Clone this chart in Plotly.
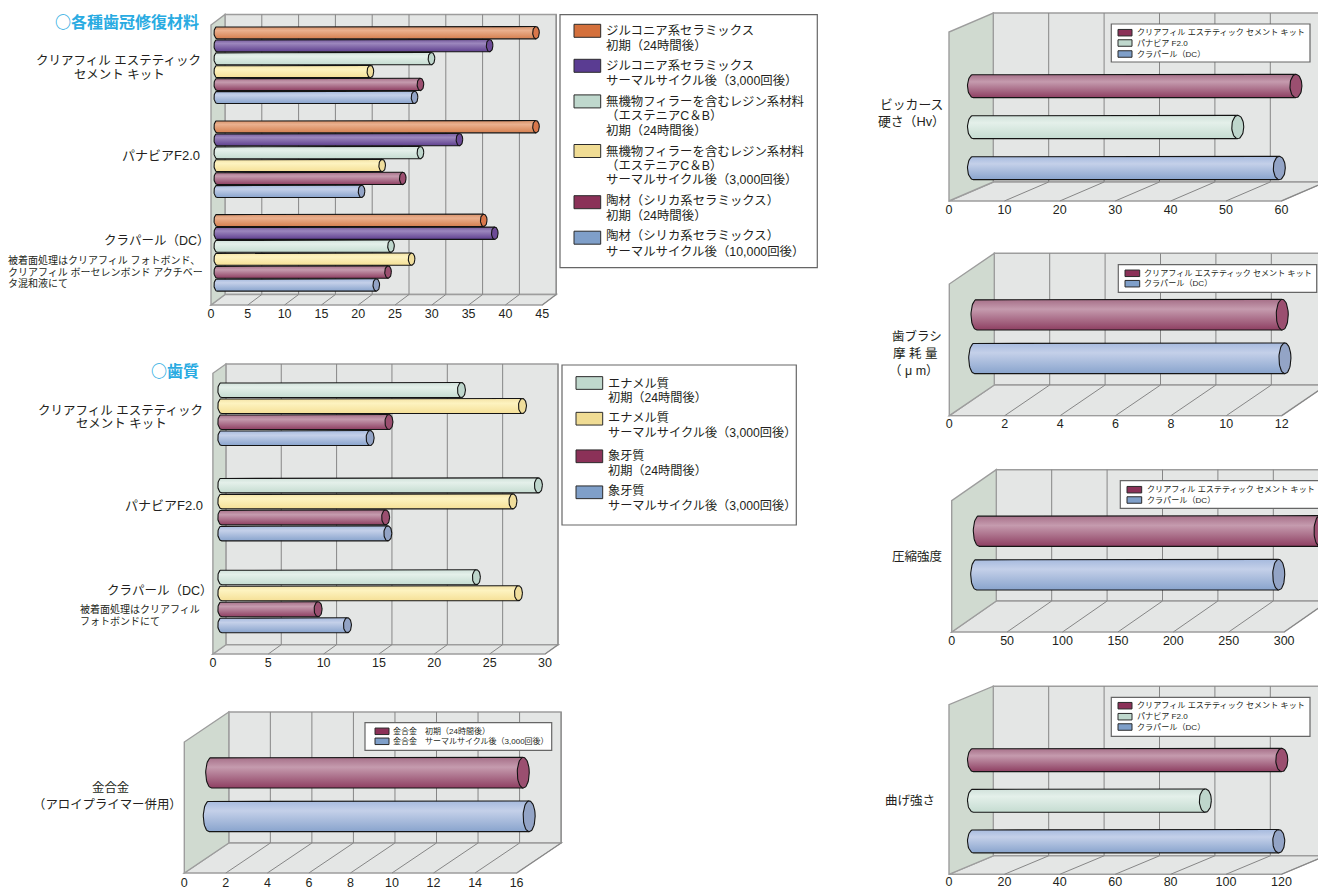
import numpy as np
import plotly.graph_objects as go

W, H = 1318, 888
FONT = "Liberation Sans, Noto Sans CJK JP"
TITLE_FONT = "Noto Sans CJK JP"
INK = "#231f20"

# Bond strength values, one list per cement and material condition
ZR_INIT = [43.3, 43.3, 36.2]
ZR_AGED = [37.0, 32.9, 37.7]
RESIN_INIT = [29.1, 27.6, 23.6]
RESIN_AGED = [20.8, 22.4, 26.4]
PORC_INIT = [27.6, 25.2, 23.2]
PORC_AGED = [26.8, 19.6, 21.6]

ENAMEL_INIT = [21.65, 28.6, 23.0]
ENAMEL_AGED = [27.16, 26.3, 26.8]
DENTIN_INIT = [15.1, 14.8, 8.7]
DENTIN_AGED = [13.4, 15.0, 11.35]

GOLD_VALUES = [15.0, 15.4]
HARDNESS = [58.2, 47.7, 55.2]
WEAR = [11.02, 11.2]
COMPRESSIVE = [307.5, 272.6]
FLEXURAL = [111.3, 83.7, 110.2]

# Tick labels for each value axis
TICKS_CROWN = [0, 5, 10, 15, 20, 25, 30, 35, 40, 45]
TICKS_TOOTH = [0, 5, 10, 15, 20, 25, 30]
TICKS_GOLD = [0, 2, 4, 6, 8, 10, 12, 14, 16]
TICKS_HARD = [0, 10, 20, 30, 40, 50, 60]
TICKS_WEAR = [0, 2, 4, 6, 8, 10, 12]
TICKS_COMP = [0, 50, 100, 150, 200, 250, 300]
TICKS_FLEX = [0, 20, 40, 60, 80, 100, 120]

# Cylinder colours: gradient stops from top to bottom, then the end cap
STYLES = {
    "orange": (["#d8926a", "#eab08e", "#d57f4f"], "#d9774b"),
    "purple": (["#755a9c", "#9c87bd", "#5e3f8e"], "#6c4a96"),
    "green": (["#d0e1da", "#e4f0ea", "#c5dcd1"], "#bed6cc"),
    "yellow": (["#f4e3a6", "#fdf3c0", "#f5e097"], "#f0de9c"),
    "maroon": (["#a66f88", "#c59bae", "#8e3f62"], "#9b4f70"),
    "blue": (["#a6bade", "#c4d0e9", "#89a4cd"], "#93a4c6"),
}
SWATCH = {
    "orange": "#d4703c", "purple": "#5a3c92", "green": "#bfd8cd",
    "yellow": "#f0dc94", "maroon": "#8b3158", "blue": "#7f9fc9",
}

# Plot geometry for each panel, in page pixels
PANELS = [
    dict(ticks=TICKS_CROWN, x0=211, k=7.36, floor=305, wall_top=25, dx=14, dy=10.5,
         inset=6.3, shift=0, cap=3.3, bar_h=12.3, first=32.7, pitch=12.93, standoff=-2,
         rows=[0, 1, 2, 3, 4, 5, 7.27, 8.27, 9.27, 10.27, 11.27, 12.27,
               14.51, 15.51, 16.51, 17.51, 18.51, 19.51],
         series=[("orange", ZR_INIT), ("purple", ZR_AGED), ("green", RESIN_INIT),
                 ("yellow", RESIN_AGED), ("maroon", PORC_INIT), ("blue", PORC_AGED)]),
    dict(ticks=TICKS_TOOTH, x0=212.9, k=11.07, floor=654, wall_top=373.3, dx=13, dy=9.3,
         inset=8.9, shift=0, cap=4, bar_h=15, first=390, pitch=16, standoff=-2,
         rows=[0, 1, 2, 3, 5.96, 6.96, 7.96, 8.96, 11.7, 12.7, 13.7, 14.7],
         series=[("green", ENAMEL_INIT), ("yellow", ENAMEL_AGED),
                 ("maroon", DENTIN_INIT), ("blue", DENTIN_AGED)]),
    dict(ticks=TICKS_GOLD, x0=184.3, k=20.77, floor=873, wall_top=742, dx=44.5, dy=30,
         inset=27.4, shift=-2.4, cap=6, bar_h=30.7, first=772.7, pitch=43.6, standoff=-1,
         rows=[0, 1], series=[("maroon", GOLD_VALUES[:1]), ("blue", GOLD_VALUES[1:])]),
    dict(ticks=TICKS_HARD, x0=949, k=5.54, floor=201, wall_top=32, dx=44.3, dy=19,
         inset=24.5, shift=0, cap=6, bar_h=23.3, first=86, pitch=41, standoff=-2,
         rows=[0, 1, 2], series=[("maroon", HARDNESS[:1]), ("green", HARDNESS[1:2]),
                                 ("blue", HARDNESS[2:])]),
    dict(ticks=TICKS_WEAR, x0=949.3, k=27.7, floor=415.7, wall_top=284, dx=45, dy=30.7,
         inset=27.7, shift=-2.3, cap=6, bar_h=30.7, first=314.7, pitch=43.6, standoff=-2,
         rows=[0, 1], series=[("maroon", WEAR[:1]), ("blue", WEAR[1:])]),
    dict(ticks=TICKS_COMP, x0=951.7, k=1.108, floor=632, wall_top=500.7, dx=44.6, dy=31,
         inset=27.6, shift=-2.6, cap=6, bar_h=30.7, first=531, pitch=43.7, standoff=-2,
         rows=[0, 1], series=[("maroon", COMPRESSIVE[:1]), ("blue", COMPRESSIVE[1:])]),
    dict(ticks=TICKS_FLEX, x0=949, k=2.77, floor=874.3, wall_top=704.7, dx=44.3, dy=18.5,
         inset=24.5, shift=0, cap=6, bar_h=23.3, first=760, pitch=40.6, standoff=-3,
         rows=[0, 1, 2], series=[("maroon", FLEXURAL[:1]), ("green", FLEXURAL[1:2]),
                                 ("blue", FLEXURAL[2:])]),
]

# Free-standing labels: text, anchor x, centre y, size, horizontal anchor
LABELS = [
    ("クリアフィル エステティック", 202, 61, 12.5, "right"),
    ("セメント キット", 119, 75, 12.5, "center"),
    ("パナビアF2.0", 201, 156, 13, "right"),
    ("クラパール（DC）", 210, 241, 12.5, "right"),
    ("被着面処理はクリアフィル フォトボンド、", 7, 260, 10, "left"),
    ("クリアフィル ボーセレンボンド アクチベー", 7, 272, 10, "left"),
    ("タ混和液にて", 7, 283, 10, "left"),
    ("クリアフィル エステティック", 204, 411, 12.5, "right"),
    ("セメント キット", 122, 424, 12.5, "center"),
    ("パナビアF2.0", 204, 506, 13, "right"),
    ("クラパール（DC）", 213, 591, 12.5, "right"),
    ("被着面処理はクリアフィル", 79, 609, 10, "left"),
    ("フォトボンドにて", 79, 621, 10, "left"),
    ("金合金", 110, 787.7, 12.4, "center"),
    ("（アロイプライマー併用）", 183, 805.3, 12.4, "right"),
    ("ビッカース", 944, 104, 12.8, "right"),
    ("硬さ（Hv）", 946, 121.7, 12.8, "right"),
    ("歯ブラシ", 943, 337, 12.5, "right"),
    ("摩 耗 量", 938, 354, 12.5, "right"),
    ("（ μ m）", 940, 371, 12.5, "right"),
    ("圧縮強度", 943, 556, 12.5, "right"),
    ("曲げ強さ", 936, 801, 12.5, "right"),
]

TITLES = [("○各種歯冠修復材料", 200, 21.3, 16), ("○歯質", 200, 370, 16)]

# Legends: box (x0, y0, x1, y1), swatch x-range, swatch height, text x, font size, entries
# Each entry: colour, swatch centre y, then (text, y) lines
LEGENDS = [
    dict(box=(560, 14.7, 817.3, 267.7), sx=(574, 600.7), sh=13, tx=605, size=12.4, entries=[
        ("orange", 30.8, [("ジルコニア系セラミックス", 30.7), ("初期（24時間後）", 45.7)]),
        ("purple", 65.8, [("ジルコニア系セラミックス", 66), ("サーマルサイクル後（3,000回後）", 81.3)]),
        ("green", 101.4, [("無機物フィラーを含むレジン系材料", 101.7), ("（エステニアC＆B）", 115.7), ("初期（24時間後）", 130.7)]),
        ("yellow", 151, [("無機物フィラーを含むレジン系材料", 151.7), ("（エステニアC＆B）", 165.7), ("サーマルサイクル後（3,000回後）", 180.3)]),
        ("maroon", 202.2, [("陶材（シリカ系セラミックス）", 201), ("初期（24時間後）", 215.7)]),
        ("blue", 237.7, [("陶材（シリカ系セラミックス）", 236), ("サーマルサイクル後（10,000回後）", 251.7)]),
    ]),
    dict(box=(562, 365, 796.3, 525), sx=(576, 602.7), sh=12.7, tx=607, size=12.2, entries=[
        ("green", 383, [("エナメル質", 383.3), ("初期（24時間後）", 398.3)]),
        ("yellow", 418.7, [("エナメル質", 417.3), ("サーマルサイクル後（3,000回後）", 432.7)]),
        ("maroon", 456.3, [("象牙質", 455.7), ("初期（24時間後）", 471.3)]),
        ("blue", 492.3, [("象牙質", 491), ("サーマルサイクル後（3,000回後）", 506.3)]),
    ]),
    dict(box=(365, 722.7, 551.7, 750.3), sx=(375, 389), sh=6.5, tx=392, size=8, entries=[
        ("maroon", 731.3, [("金合金　初期（24時間後）", 731.3)]),
        ("blue", 741.3, [("金合金　サーマルサイクル後（3,000回後）", 741.3)]),
    ]),
    dict(box=(1111.3, 24, 1310, 62), sx=(1118, 1132), sh=6.5, tx=1136, size=8.1, entries=[
        ("maroon", 32.7, [("クリアフィル エステティック セメント キット", 32.7)]),
        ("green", 43, [("パナビア F2.0", 43)]),
        ("blue", 54, [("クラパール（DC）", 54)]),
    ]),
    dict(box=(1118.3, 264.7, 1316.7, 292.3), sx=(1125, 1139.7), sh=6.5, tx=1143, size=8.1, entries=[
        ("maroon", 273.3, [("クリアフィル エステティック セメント キット", 273.3)]),
        ("blue", 283.7, [("クラパール（DC）", 283.7)]),
    ]),
    dict(box=(1120.3, 480.7, 1330, 508.3), sx=(1127, 1141.7), sh=6.5, tx=1145.7, size=8.1, entries=[
        ("maroon", 489.7, [("クリアフィル エステティック セメント キット", 489.7)]),
        ("blue", 500, [("クラパール（DC）", 500)]),
    ]),
    dict(box=(1111.3, 697.3, 1310, 736.3), sx=(1118, 1132), sh=6.5, tx=1136, size=8.1, entries=[
        ("maroon", 705.7, [("クリアフィル エステティック セメント キット", 705.7)]),
        ("green", 716.7, [("パナビア F2.0", 716.7)]),
        ("blue", 727, [("クラパール（DC）", 727)]),
    ]),
]

WALL_LEFT = "#d0dad0"
WALL_BACK = "#e4e6e5"
EDGE = "#9d9d9d"
GRID = "#868686"


def px(x):
    return x / W


def py(y):
    return 1 - y / H


fig = go.Figure()
shapes = []
annotations = []
layout_axes = {}

for idx, p in enumerate(PANELS, start=1):
    xname = "x" if idx == 1 else f"x{idx}"
    yname = "y" if idx == 1 else f"y{idx}"
    ticks = p["ticks"]
    k, x0 = p["k"], p["x0"]
    left_px = x0 - 2
    right_px = min(W, x0 + k * ticks[-1] + p["dx"] + 2)
    top_px = p["wall_top"] - p["dy"] - 2
    bottom_px = p["floor"] + 1

    def y_row(y_px, p=p):
        return (y_px - p["first"]) / p["pitch"]

    layout_axes["xaxis" if idx == 1 else f"xaxis{idx}"] = dict(
        domain=[px(left_px), px(right_px)],
        range=[(left_px - x0) / k, (right_px - x0) / k],
        anchor=yname, tickvals=ticks, ticktext=[str(t) for t in ticks],
        showgrid=False, zeroline=False, showline=False, ticks="", automargin=False,
        tickfont=dict(family=FONT, size=12.5, color=INK), ticklabelstandoff=p["standoff"],
    )
    layout_axes["yaxis" if idx == 1 else f"yaxis{idx}"] = dict(
        domain=[py(bottom_px), py(top_px)],
        range=[y_row(bottom_px), y_row(top_px)],
        anchor=xname, showticklabels=False, showgrid=False, automargin=False,
        zeroline=False, showline=False, ticks="",
    )

    # Walls and floor sit behind the cylinders, offset from the value axis by the depth
    depth_x = p["dx"] / k
    end = ticks[-1]
    yf, yb, yt, ytb = (y_row(p["floor"]), y_row(p["floor"] - p["dy"]),
                       y_row(p["wall_top"]), y_row(p["wall_top"] - p["dy"]))
    refs = dict(xref=xname, yref=yname, layer="below")
    edge = dict(color=EDGE, width=1.4)
    shapes.append(dict(type="path", path=f"M {depth_x} {ytb} L {end + depth_x} {ytb} L {end + depth_x} {yb} L {depth_x} {yb} Z",
                       fillcolor=WALL_BACK, line=edge, **refs))
    shapes.append(dict(type="path", path=f"M 0 {yf} L {end} {yf} L {end + depth_x} {yb} L {depth_x} {yb} Z",
                       fillcolor=WALL_BACK, line=edge, **refs))
    shapes.append(dict(type="path", path=f"M 0 {yf} L 0 {yt} L {depth_x} {ytb} L {depth_x} {yb} Z",
                       fillcolor=WALL_LEFT, line=edge, **refs))
    for t in ticks[1:]:
        shapes.append(dict(type="line", x0=t + depth_x, x1=t + depth_x, y0=ytb, y1=yb,
                           line=dict(color=GRID, width=1), **refs))
        shapes.append(dict(type="line", x0=t, x1=t + depth_x, y0=yf, y1=yb,
                           line=dict(color=GRID, width=1), **refs))

    # Cylinders: gradient body with a rounded back end, then a solid end cap
    half_h = p["bar_h"] / 2 / p["pitch"]
    cap_w = p["cap"] / k
    n_groups = len(p["rows"]) // len(p["series"])
    theta = np.linspace(0, 2 * np.pi, 49)
    arc = np.linspace(-np.pi / 2, np.pi / 2, 25)
    for g in range(n_groups):
        for s, (style, values) in enumerate(p["series"]):
            row = p["rows"][g * len(p["series"]) + s]
            value = values[g]
            start = (p["inset"] + p["shift"] * s) / k
            tip = start + value
            stops, cap_color = STYLES[style]
            body_x = np.concatenate([[tip], start - cap_w * np.cos(arc), [tip]])
            body_y = np.concatenate([[row - half_h], row + half_h * np.sin(arc), [row + half_h]])
            fig.add_trace(go.Scatter(
                x=body_x, y=body_y, mode="lines", xaxis=xname, yaxis=yname,
                fill="toself", line=dict(color="#141414", width=1.1),
                fillgradient=dict(type="vertical",
                                  colorscale=[[0, stops[2]], [0.68, stops[1]], [1, stops[0]]]),
                hoverinfo="skip", showlegend=False,
            ))
            fig.add_trace(go.Scatter(
                x=tip + cap_w * np.cos(theta), y=row + half_h * np.sin(theta),
                mode="lines", xaxis=xname, yaxis=yname, fill="toself",
                fillcolor=cap_color, line=dict(color="#141414", width=1.1),
                hoverinfo="skip", showlegend=False,
            ))


def label(text, x, y, size, anchor="left", color=INK, bold=False, family=FONT):
    annotations.append(dict(
        text=f"<b>{text}</b>" if bold else text, x=px(x), y=py(y), xref="paper", yref="paper",
        xanchor=anchor, yanchor="middle", showarrow=False, borderpad=0,
        font=dict(family=family, size=size, color=color),
    ))


for text, x, y, size, anchor in LABELS:
    label(text, x, y, size, anchor)
for text, x, y, size in TITLES:
    label(text, x, y, size, "right", color="#29abe2", bold=True, family=TITLE_FONT)

for leg in LEGENDS:
    bx0, by0, bx1, by1 = leg["box"]
    shapes.append(dict(type="rect", xref="paper", yref="paper", x0=px(bx0), x1=px(bx1),
                       y0=py(by0), y1=py(by1), fillcolor="white", layer="above",
                       line=dict(color="#666666", width=1.2)))
    for color, cy, lines in leg["entries"]:
        shapes.append(dict(type="rect", xref="paper", yref="paper",
                           x0=px(leg["sx"][0]), x1=px(leg["sx"][1]),
                           y0=py(cy - leg["sh"] / 2), y1=py(cy + leg["sh"] / 2),
                           fillcolor=SWATCH[color], layer="above",
                           line=dict(color="#2b2b2b", width=1)))
        for text, ly in lines:
            label(text, leg["tx"], ly, leg["size"])

fig.update_layout(
    width=W, height=H, margin=dict(l=0, r=0, t=0, b=0, autoexpand=False),
    paper_bgcolor="white", plot_bgcolor="rgba(0,0,0,0)",
    showlegend=False, shapes=shapes, annotations=annotations, **layout_axes,
)
fig.write_html("out.html", config=dict(displayModeBar=False))
